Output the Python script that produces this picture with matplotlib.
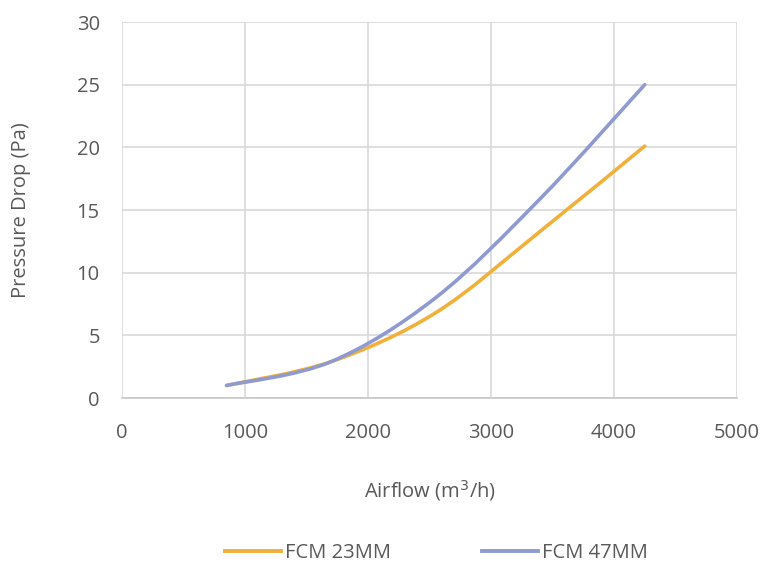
import numpy as np
import matplotlib
matplotlib.use("Agg")
import matplotlib.pyplot as plt
from matplotlib.path import Path
from matplotlib.patches import PathPatch
from matplotlib.lines import Line2D

airflow = [850, 1700, 2550, 3400, 4250]
fcm23 = [1.0, 2.9, 6.8, 13.3, 20.1]
fcm47 = [1.0, 2.9, 8.0, 15.9, 25.0]
series_names = ["FCM 23MM", "FCM 47MM"]
colors = ["#F0B03A", "#8E9AD0"]
xticks = [0, 1000, 2000, 3000, 4000, 5000]
yticks = [0, 5, 10, 15, 20, 25, 30]

plt.rcParams['font.family'] = ['Open Sans', 'DejaVu Sans']
TXT = "#595959"
FS = 14.5

def smooth_path(x, y):
    # Excel-like cubic Bezier smoothing through the data points
    x = np.asarray(x, float); y = np.asarray(y, float)
    n = len(x)
    verts = [(x[0], y[0])]
    codes = [Path.MOVETO]
    t = 1 / 6
    for i in range(n - 1):
        p0 = np.array([x[max(i - 1, 0)], y[max(i - 1, 0)]])
        p1 = np.array([x[i], y[i]])
        p2 = np.array([x[i + 1], y[i + 1]])
        p3 = np.array([x[min(i + 2, n - 1)], y[min(i + 2, n - 1)]])
        c1 = p1 + (p2 - p0) * t
        c2 = p2 - (p3 - p1) * t
        verts += [tuple(c1), tuple(c2), tuple(p2)]
        codes += [Path.CURVE4] * 3
    return Path(verts, codes)

fig = plt.figure(figsize=(7.77, 5.64), dpi=100)
ax = fig.add_axes([122 / 777, 1 - 398 / 564, (737 - 122) / 777, (398 - 22) / 564])

for yv, c in zip([fcm23, fcm47], colors):
    patch = PathPatch(smooth_path(airflow, yv), facecolor="none", edgecolor=c,
                      lw=2.6, capstyle="round", zorder=3)
    ax.add_patch(patch)

ax.set_xlim(0, 5000)
ax.set_ylim(0, 30)
ax.set_xticks(xticks)
ax.set_yticks(yticks)
ax.grid(True, color="#D9D9D9", lw=1.2)
ax.set_axisbelow(True)
for s in ["top", "right", "left"]:
    ax.spines[s].set_visible(False)
ax.spines["bottom"].set_color("#C8C8C8")
ax.spines["bottom"].set_linewidth(1.2)
ax.tick_params(length=0, labelsize=FS, labelcolor=TXT)
ax.tick_params(axis="x", pad=18)
ax.tick_params(axis="y", pad=16)

ax.set_xlabel("Airflow (m$^3$/h)", fontsize=FS, color=TXT, labelpad=25)
ax.set_ylabel("Pressure Drop (Pa)", fontsize=FS, color=TXT, labelpad=33)

handles = [Line2D([], [], color=c, lw=2.8) for c in colors]
fig.legend(handles, series_names, loc="center", bbox_to_anchor=(436.5 / 777, 1 - 553 / 564),
           ncol=2, frameon=False, fontsize=FS, labelcolor=TXT,
           handlelength=2.8, handletextpad=0.2, columnspacing=4.5)

fig.savefig("out.png", dpi=100)
